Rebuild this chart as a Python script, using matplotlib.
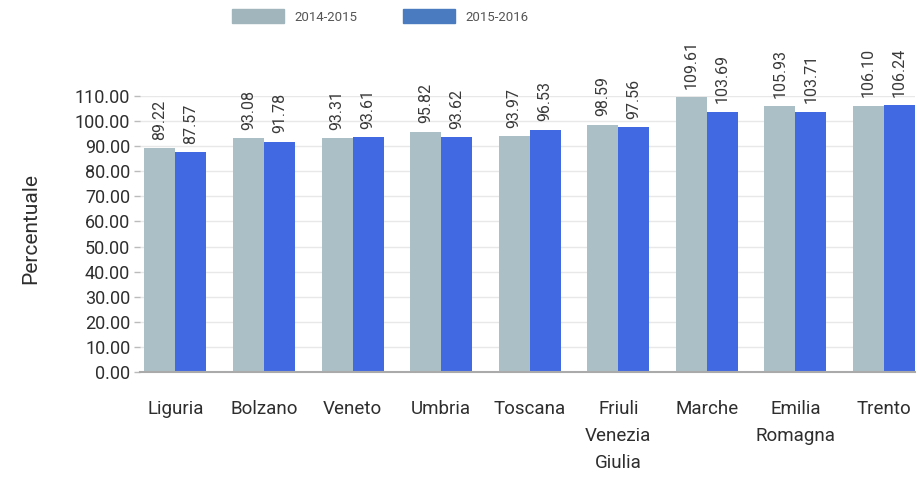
import numpy as np
import matplotlib
matplotlib.use("Agg")
import matplotlib.pyplot as plt
from matplotlib.patches import Patch

regions = ["Liguria", "Bolzano", "Veneto", "Umbria", "Toscana",
           "Friuli\nVenezia\nGiulia", "Marche", "Emilia\nRomagna", "Trento"]
series_names = ["2014-2015", "2015-2016"]
vals_1415 = [89.22, 93.08, 93.31, 95.82, 93.97, 98.59, 109.61, 105.93, 106.10]
vals_1516 = [87.57, 91.78, 93.61, 93.62, 96.53, 97.56, 103.69, 103.71, 106.24]
yticks = np.arange(0, 111, 10)

gray = "#abbfc6"
blue = "#4169e1"
txt = "#2e2e2e"

plt.rcParams["font.family"] = ["Roboto", "DejaVu Sans"]

fig = plt.figure(figsize=(9.18, 4.79), dpi=100)
ax = fig.add_axes([0.1525, 0.2234, 0.8442, 0.5762])

x = np.arange(len(regions))
w = 0.35
b1 = ax.bar(x - w / 2, vals_1415, w, color=gray, zorder=2)
b2 = ax.bar(x + w / 2, vals_1516, w, color=blue, zorder=2)

# value labels, rotated, above every bar
for bars, vals in ((b1, vals_1415), (b2, vals_1516)):
    for r, v in zip(bars, vals):
        ax.annotate(f"{v:.2f}", (r.get_x() + r.get_width() / 2, v),
                    xytext=(0, 6), textcoords="offset points",
                    rotation=90, ha="center", va="bottom",
                    fontsize=11.5, color="#3a3a3a")

ax.set_xlim(-0.4, len(regions) - 0.65)
ax.set_ylim(0, 110)
ax.set_yticks(yticks)
ax.set_yticklabels([f"{t:.2f}" for t in yticks])
ax.set_xticks(x)
ax.set_xticklabels(regions, linespacing=1.65)
ax.tick_params(axis="x", length=0, pad=20, labelsize=13.5, colors=txt)
ax.tick_params(axis="y", length=4, width=1, color="#bbbbbb", pad=3,
               labelsize=13, labelcolor=txt)

ax.grid(axis="y", color="#e8e8e8", lw=1, zorder=0)
for s in ("top", "right", "left"):
    ax.spines[s].set_visible(False)
ax.spines["bottom"].set_color("#aaaaaa")
ax.spines["bottom"].set_linewidth(1.5)

fig.text(0.033, 0.522, "Percentuale", rotation=90, ha="center", va="center",
         fontsize=15, color=txt)

handles = [Patch(color="#a0b5bc"), Patch(color="#4a7bc0")]
fig.legend(handles, series_names, loc="upper left", bbox_to_anchor=(0.24, 1.005),
           ncol=2, frameon=False, fontsize=9.5, labelcolor="#555555",
           handlelength=3.9, handleheight=1.2, columnspacing=3.5, handletextpad=0.8)

fig.savefig("out.png", dpi=100)
